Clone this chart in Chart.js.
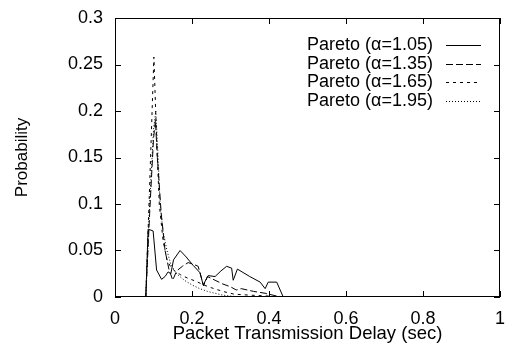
<!DOCTYPE html>
<html>
<head>
<meta charset="utf-8">
<script src="https://cdn.jsdelivr.net/npm/chart.js@4/dist/chart.umd.min.js"></script>
<style>
  html, body { margin: 0; padding: 0; background: #fff; }
  #wrap { width: 511px; height: 343px; }
</style>
</head>
<body>
<div id="wrap"><canvas id="chart" width="511" height="343"></canvas></div>
<script>
// ── DATA ─────────────────────────────────────────────────
const seriesLabels = ['Pareto (\u03b1=1.05)', 'Pareto (\u03b1=1.35)', 'Pareto (\u03b1=1.65)', 'Pareto (\u03b1=1.95)'];

const x105 = [0.08, 0.086, 0.099, 0.108, 0.121, 0.13, 0.138, 0.145, 0.152, 0.169, 0.185, 0.203, 0.221, 0.229, 0.242, 0.26, 0.275, 0.29, 0.303, 0.307, 0.318, 0.35, 0.377, 0.39, 0.398, 0.42, 0.437];
const y105 = [0, 0.073, 0.071, 0.029, 0.019, 0.022, 0.027, 0.025, 0.04, 0.050, 0.043, 0.034, 0.026, 0.013, 0.023, 0.022, 0.028, 0.033, 0.031, 0.018, 0.030, 0.022, 0.016, 0.009, 0.016, 0.016, 0];

const x135 = [0.08, 0.09, 0.1, 0.105, 0.11, 0.12, 0.13, 0.14, 0.15, 0.16, 0.175, 0.19, 0.205, 0.216, 0.23, 0.24, 0.26, 0.28, 0.3, 0.315, 0.328, 0.36, 0.39, 0.42, 0.44];
const y135 = [0, 0.09, 0.17, 0.19, 0.15, 0.09, 0.05, 0.03, 0.018, 0.028, 0.033, 0.037, 0.035, 0.033, 0.012, 0.022, 0.018, 0.014, 0.011, 0.0075, 0.009, 0.006, 0.004, 0.001, 0];

const x165 = [0.08, 0.09, 0.101, 0.108, 0.115, 0.125, 0.135, 0.145, 0.155, 0.17, 0.19, 0.21, 0.23, 0.25, 0.28, 0.31, 0.35, 0.4, 0.42];
const y165 = [0, 0.12, 0.258, 0.17, 0.1, 0.06, 0.04, 0.032, 0.028, 0.024, 0.02, 0.017, 0.013, 0.01, 0.006, 0.003, 0.002, 0.001, 0];

const x195 = [0.08, 0.09, 0.1, 0.106, 0.112, 0.117, 0.125, 0.135, 0.145, 0.16, 0.18, 0.2, 0.22, 0.24, 0.26, 0.28, 0.3, 0.33];
const y195 = [0, 0.1, 0.18, 0.2, 0.15, 0.1, 0.07, 0.05, 0.035, 0.025, 0.018, 0.013, 0.009, 0.006, 0.004, 0.002, 0.001, 0];

const xTicks = [0, 0.2, 0.4, 0.6, 0.8, 1];
const yTicks = [0, 0.05, 0.1, 0.15, 0.2, 0.25, 0.3];

// ── STYLE ────────────────────────────────────────────────
const FONT = 'Liberation Sans, Arial, Helvetica, sans-serif';
const dashes = [[], [7, 3], [3, 4], [1, 2]];
const pts = (xs, ys) => xs.map((x, i) => ({ x, y: ys[i] }));
const allData = [pts(x105, y105), pts(x135, y135), pts(x165, y165), pts(x195, y195)];

// inner tick marks on all four sides, frame, custom legend
const frame = {
  id: 'frame',
  afterDraw(chart) {
    const { ctx, chartArea: a, scales } = chart;
    ctx.save();
    ctx.strokeStyle = '#000';
    ctx.lineWidth = 1;
    ctx.setLineDash([]);
    ctx.strokeRect(a.left + 0.5, a.top + 0.5, a.right - a.left - 1, a.bottom - a.top - 1);
    const L = 6;
    ctx.beginPath();
    xTicks.forEach(v => {
      const px = Math.round(scales.x.getPixelForValue(v)) + 0.5;
      ctx.moveTo(px, a.bottom); ctx.lineTo(px, a.bottom - L);
      ctx.moveTo(px, a.top); ctx.lineTo(px, a.top + L);
    });
    yTicks.forEach(v => {
      const py = Math.round(scales.y.getPixelForValue(v)) + 0.5;
      ctx.moveTo(a.left, py); ctx.lineTo(a.left + L, py);
      ctx.moveTo(a.right, py); ctx.lineTo(a.right - L, py);
    });
    ctx.stroke();

    // legend
    ctx.font = '18px ' + FONT;
    ctx.fillStyle = '#000';
    ctx.textAlign = 'right';
    ctx.textBaseline = 'middle';
    seriesLabels.forEach((lab, i) => {
      const y = 45 + i * 18.6;
      ctx.fillText(lab, 433, y);
      ctx.beginPath();
      ctx.setLineDash(dashes[i]);
      ctx.moveTo(446, Math.round(y) + 0.5);
      ctx.lineTo(481, Math.round(y) + 0.5);
      ctx.stroke();
    });
    ctx.restore();
  }
};

new Chart(document.getElementById('chart'), {
  type: 'scatter',
  data: {
    datasets: allData.map((d, i) => ({
      label: seriesLabels[i],
      data: d,
      showLine: true,
      borderColor: '#000',
      borderWidth: 1,
      borderDash: dashes[i],
      pointRadius: 0,
      tension: 0
    }))
  },
  options: {
    responsive: false,
    animation: false,
    layout: { padding: { top: 18, right: 11, left: 0, bottom: 0 } },
    plugins: { legend: { display: false }, tooltip: { enabled: false } },
    scales: {
      x: {
        type: 'linear', min: 0, max: 1,
        afterFit: s => { s.height = 46; s.paddingRight = 0; s.paddingLeft = 0; },
        afterBuildTicks: s => { s.ticks = xTicks.map(v => ({ value: v })); },
        grid: { display: false, drawTicks: false },
        border: { display: false },
        ticks: { padding: 11, color: '#000', font: { family: FONT, size: 18 }, maxRotation: 0,
                 callback: v => String(+v.toFixed(1)) },
        title: { display: true, text: 'Packet Transmission Delay (sec)', color: '#000',
                 font: { family: FONT, size: 18.5, lineHeight: 1.0 }, padding: { top: 0, bottom: 0 } }
      },
      y: {
        type: 'linear', min: 0, max: 0.3,
        afterFit: s => { s.width = 115; s.paddingTop = 0; s.paddingBottom = 0; },
        afterBuildTicks: s => { s.ticks = yTicks.map(v => ({ value: v })); },
        grid: { display: false, drawTicks: false },
        border: { display: false },
        ticks: { padding: 12, color: '#000', font: { family: FONT, size: 18 },
                 callback: v => String(+v.toFixed(2)) },
        title: { display: true, text: 'Probability', color: '#000',
                 font: { family: FONT, size: 17 }, padding: { top: 12, bottom: 0 } }
      }
    }
  },
  plugins: [frame]
});
</script>
</body>
</html>
